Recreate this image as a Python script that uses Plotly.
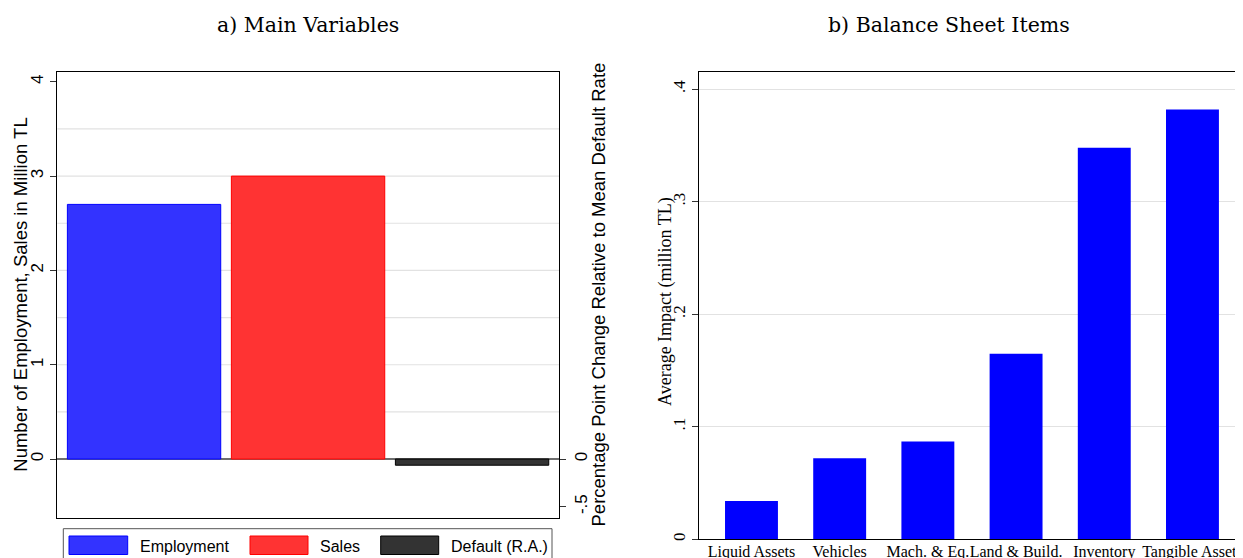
import plotly.graph_objects as go

# page body has an 8px default margin: figure coordinates are shifted by it
OFF = 8
W, H = 1243 - OFF, 558 - OFF

# ---------------- data ----------------
main_categories = ["Employment", "Sales", "Default (R.A.)"]
employment_value = [2.7]
sales_value = [3.0]
default_value = [-0.065]
main_fill = ["#3333FF", "#FF3333", "#333333"]
main_edge = ["#0000FF", "#FF0000", "#000000"]

balance_categories = ["Liquid Assets", "Vehicles", "Mach. & Eq.", "Land & Build.",
                      "Inventory", "Tangible Assets"]
balance_values = [0.034, 0.072, 0.087, 0.165, 0.348, 0.382]

left_ticks = [0, 1, 2, 3, 4]
left_grid = [0.5, 1, 1.5, 2, 2.5, 3, 3.5]
right_ticks = [0, -0.5]
right_ticktext = ["0", "-.5"]
balance_ticks = [0, 0.1, 0.2, 0.3, 0.4]
balance_ticktext = ["0", ".1", ".2", ".3", ".4"]

titles = ["a) Main Variables", "b) Balance Sheet Items"]
ytitle_left = "Number of Employment, Sales in Million TL"
ytitle_right = "Percentage Point Change Relative to Mean Default Rate"
ytitle_bal = "Average Impact (million TL)"

SANS = "Liberation Sans, Arial, sans-serif"
SERIF = "Liberation Serif, Times New Roman, serif"
PAL = "DejaVu Serif, serif"


def px(x):
    return (x - OFF) / W


def py(y):
    return 1 - (y - OFF) / H


fig = go.Figure()

fig.add_trace(go.Bar(x=[main_categories[0]], y=employment_value, name=main_categories[0],
                     marker=dict(color=main_fill[0], line=dict(color=main_edge[0], width=1)),
                     width=0.935, xaxis="x", yaxis="y", showlegend=False))
fig.add_trace(go.Bar(x=[main_categories[1]], y=sales_value, name=main_categories[1],
                     marker=dict(color=main_fill[1], line=dict(color=main_edge[1], width=1)),
                     width=0.935, xaxis="x", yaxis="y", showlegend=False))
fig.add_trace(go.Bar(x=[main_categories[2]], y=default_value, name=main_categories[2],
                     marker=dict(color=main_fill[2], line=dict(color=main_edge[2], width=1)),
                     width=0.935, xaxis="x", yaxis="y2", showlegend=False))
fig.add_trace(go.Bar(x=balance_categories, y=balance_values,
                     marker=dict(color="#0000FF", line=dict(width=0)),
                     width=0.6, xaxis="x2", yaxis="y3", showlegend=False))

left_dom = [px(57.3), px(559)]
right_dom = [px(699), 1.0]
left_ydom = [py(517.7), py(71.7)]
right_ydom = [py(539.3), py(71.7)]

fig.update_layout(
    width=W, height=H, autosize=False,
    margin=dict(l=0, r=0, t=0, b=0, pad=0),
    paper_bgcolor="white", plot_bgcolor="white",
    barmode="overlay",
    showlegend=False,
    xaxis=dict(domain=left_dom, anchor="y", type="category",
               categoryorder="array", categoryarray=main_categories,
               range=[-0.529, 2.530], showticklabels=False, ticks="",
               showline=True, mirror=True, linecolor="black", linewidth=1.3,
               showgrid=False, zeroline=False, automargin=False, fixedrange=True),
    yaxis=dict(domain=left_ydom, anchor="x", range=[-0.622, 4.107],
               tickvals=left_ticks, ticks="outside", ticklen=6, tickwidth=1.2,
               tickcolor="#333333", tickangle=-90,
               tickfont=dict(family=SANS, size=17, color="black"),
               showline=True, linecolor="black", linewidth=1.3,
               showgrid=False, zeroline=True, zerolinecolor="#6e6e6e",
               zerolinewidth=1.6, automargin=False),
    yaxis2=dict(domain=left_ydom, anchor="x", overlaying="y", side="right",
                range=[-0.615, 4.06], tickvals=right_ticks, ticktext=right_ticktext,
                ticks="outside", ticklen=6, tickwidth=1.2, tickcolor="#333333",
                tickangle=-90, tickfont=dict(family=SANS, size=17, color="black"),
                showline=True, linecolor="black", linewidth=1.3,
                showgrid=False, zeroline=False, automargin=False),
    xaxis2=dict(domain=right_dom, anchor="y3", type="category",
                categoryorder="array", categoryarray=balance_categories,
                range=[-0.595, 5.573], ticks="", tickangle=0, ticklabelstandoff=-3,
                tickfont=dict(family=SERIF, size=16, color="black"),
                showline=True, mirror=True, linecolor="black", linewidth=1.3,
                showgrid=False, zeroline=False, automargin=False),
    yaxis3=dict(domain=right_ydom, anchor="x2", range=[0, 0.4156],
                tickvals=balance_ticks, ticktext=balance_ticktext,
                ticks="outside", ticklen=6, tickwidth=1.2, tickcolor="#333333",
                tickangle=-90, tickfont=dict(family=SERIF, size=17, color="black"),
                showline=True, linecolor="black", linewidth=1.3,
                showgrid=True, gridcolor="#e2e2e2", gridwidth=1.2,
                zeroline=False, automargin=False),
)

# light gridlines in the left panel
shapes = []
for g in left_grid:
    shapes.append(dict(type="line", xref="x domain", x0=0, x1=1, yref="y", y0=g, y1=g,
                       line=dict(color="#e2e2e2", width=1.2), layer="below"))

# legend box (left panel)
shapes.append(dict(type="rect", xref="paper", yref="paper",
                   x0=px(63.3), x1=px(552), y0=py(566), y1=py(528.7),
                   line=dict(color="#555555", width=1), fillcolor="rgba(0,0,0,0)"))
patch_x = [(69, 127.7), (250, 308), (380.7, 438.7)]
text_x = [137.7, 318, 448.7]
annotations = []
for i, name in enumerate(main_categories):
    x0, x1 = patch_x[i]
    shapes.append(dict(type="rect", xref="paper", yref="paper",
                       x0=px(x0), x1=px(x1), y0=py(554.5), y1=py(536),
                       line=dict(color=main_edge[i], width=1), fillcolor=main_fill[i]))
    annotations.append(dict(text=name, xref="paper", yref="paper", x=px(text_x[i]),
                            y=py(546), xanchor="left", yanchor="middle", showarrow=False,
                            font=dict(family=SANS, size=16, color="black")))

# panel titles
annotations.append(dict(text=titles[0], xref="paper", yref="paper", x=px(307.5), y=py(25),
                        xanchor="center", yanchor="middle", showarrow=False,
                        font=dict(family=PAL, size=20.5, color="black")))
annotations.append(dict(text=titles[1], xref="paper", yref="paper", x=px(948.5), y=py(25),
                        xanchor="center", yanchor="middle", showarrow=False,
                        font=dict(family=PAL, size=20.5, color="black")))
# axis titles
annotations.append(dict(text=ytitle_left, xref="paper", yref="paper", x=px(21), y=py(294.7),
                        xanchor="center", yanchor="middle", textangle=-90, showarrow=False,
                        font=dict(family=SANS, size=18.5, color="black")))
annotations.append(dict(text=ytitle_right, xref="paper", yref="paper", x=px(597.5), y=py(295),
                        xanchor="center", yanchor="middle", textangle=-90, showarrow=False,
                        font=dict(family=SANS, size=18.5, color="black")))
annotations.append(dict(text=ytitle_bal, xref="paper", yref="paper", x=px(665), y=py(302),
                        xanchor="center", yanchor="middle", textangle=-90, showarrow=False,
                        font=dict(family=SERIF, size=18, color="black")))

fig.update_layout(shapes=shapes, annotations=annotations)

fig.write_html("out.html", config={"displayModeBar": False})
